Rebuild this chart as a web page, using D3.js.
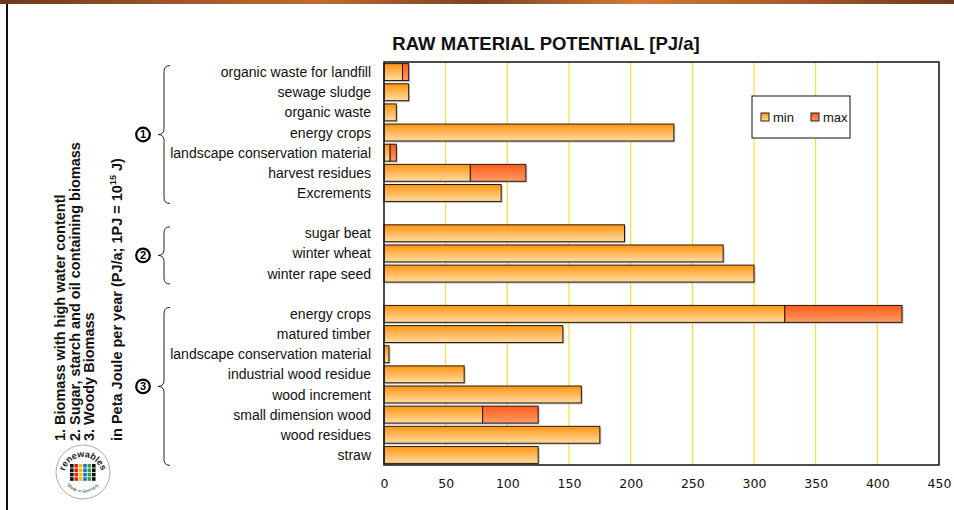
<!DOCTYPE html>
<html>
<head>
<meta charset="utf-8">
<script src="https://cdn.jsdelivr.net/npm/d3@7"></script>
<style>
  body { margin: 0; background: #fff; }
  svg { display: block; font-family: "Liberation Sans", Arial, sans-serif; }
</style>
</head>
<body>
<div id="viz"></div>
<script>
// rows top to bottom, "" = empty gap row between the groups
const categories = [
  "organic waste for landfill", "sewage sludge", "organic waste", "energy crops",
  "landscape conservation material", "harvest residues", "Excrements",
  "",
  "sugar beat", "winter wheat", "winter rape seed",
  "",
  "energy crops", "matured timber", "landscape conservation material",
  "industrial wood residue", "wood increment", "small dimension wood",
  "wood residues", "straw"
];
const minValues = [15, 20, 10, 235, 5, 70, 95, null, 195, 275, 300, null, 325, 145, 4, 65, 160, 80, 175, 125];
const maxValues = [20, null, null, null, 10, 115, null, null, null, null, null, null, 420, null, null, null, null, 125, null, null];

const groupMarks = ["1", "2", "3"];
const groupRows = [[0, 6], [8, 10], [12, 19]];

const sideNotes = [
  "1. Biomass with high water contentl",
  "2. Sugar, starch and oil containing biomass",
  "3. Woody Biomass"
];
const unitNote = "in Peta Joule per year (PJ/a; 1PJ = 10";

const xTicks = [0, 50, 100, 150, 200, 250, 300, 350, 400, 450];
const legendItems = ["min", "max"];

const width = 954, height = 510;
const plot = { left: 384, right: 939, top: 62, bottom: 465 };

const svg = d3.select("#viz").append("svg")
  .attr("width", width).attr("height", height);

const defs = svg.append("defs");
const grad = (id, top, bottom) => {
  const g = defs.append("linearGradient").attr("id", id)
    .attr("x1", 0).attr("y1", 0).attr("x2", 0).attr("y2", 1);
  g.append("stop").attr("offset", "0%").attr("stop-color", top);
  g.append("stop").attr("offset", "100%").attr("stop-color", bottom);
};
grad("gMin", "#ff9410", "#ffdca2");
grad("gMax", "#ff5a18", "#ff9c6a");

// top decorative strip
const strip = defs.append("linearGradient").attr("id", "strip");
["#6b3a1e", "#9a5428", "#c06a30", "#7a4424", "#d07a36", "#a55a2a", "#6b3a1e"].forEach((c, i, a) =>
  strip.append("stop").attr("offset", (i / (a.length - 1) * 100) + "%").attr("stop-color", c));
svg.append("rect").attr("x", 0).attr("y", 0).attr("width", width).attr("height", 4).attr("fill", "url(#strip)");
svg.append("line").attr("x1", 7).attr("x2", 7).attr("y1", 4).attr("y2", height)
  .attr("stroke", "#111").attr("stroke-width", 2);

const x = d3.scaleLinear().domain([0, 450]).range([plot.left, plot.right]);
const y = d3.scaleBand().domain(d3.range(categories.length))
  .range([plot.top, plot.bottom]).paddingInner(0.16).paddingOuter(0.08);

// grid
svg.append("g").selectAll("line").data(xTicks.slice(1, -1)).join("line")
  .attr("x1", d => x(d)).attr("x2", d => x(d))
  .attr("y1", plot.top).attr("y2", plot.bottom)
  .attr("stroke", "#ffd21a").attr("stroke-width", 1);

// bars
const rows = categories.map((c, i) => ({ i, c, min: minValues[i], max: maxValues[i] }))
  .filter(d => d.min != null);

const bars = svg.append("g");
bars.selectAll("rect.shadow").data(rows).join("rect")
  .attr("class", "shadow")
  .attr("x", x(0) + 1.5).attr("y", d => y(d.i) + 1.5)
  .attr("width", d => x(d.max != null ? d.max : d.min) - x(0))
  .attr("height", y.bandwidth())
  .attr("fill", "#777").attr("opacity", 0.45);
bars.selectAll("rect.min").data(rows).join("rect")
  .attr("class", "min")
  .attr("x", x(0)).attr("y", d => y(d.i))
  .attr("width", d => x(d.min) - x(0))
  .attr("height", y.bandwidth())
  .attr("fill", "url(#gMin)").attr("stroke", "#2a1a0a").attr("stroke-width", 1);
bars.selectAll("rect.max").data(rows.filter(d => d.max != null)).join("rect")
  .attr("class", "max")
  .attr("x", d => x(d.min)).attr("y", d => y(d.i))
  .attr("width", d => x(d.max) - x(d.min))
  .attr("height", y.bandwidth())
  .attr("fill", "url(#gMax)").attr("stroke", "#2a1a0a").attr("stroke-width", 1);

// plot frame
svg.append("rect").attr("x", plot.left).attr("y", plot.top)
  .attr("width", plot.right - plot.left).attr("height", plot.bottom - plot.top)
  .attr("fill", "none").attr("stroke", "#111").attr("stroke-width", 1.5);

// x axis
const xAxis = svg.append("g").attr("transform", `translate(0,${plot.bottom})`)
  .call(d3.axisBottom(x).tickValues(xTicks).tickSize(0).tickPadding(14));
xAxis.select(".domain").remove();
xAxis.selectAll("text").attr("fill", "#111")
  .attr("font-family", "'DejaVu Sans', sans-serif").attr("font-size", 12.5);

// category labels
svg.append("g").selectAll("text").data(categories.map((c, i) => ({ c, i })).filter(d => d.c))
  .join("text")
  .attr("x", 371).attr("y", d => y(d.i) + y.bandwidth() / 2)
  .attr("dy", "0.36em").attr("text-anchor", "end")
  .attr("font-size", 14).attr("fill", "#111")
  .text(d => d.c);

// title
svg.append("text").attr("x", 546).attr("y", 50).attr("text-anchor", "middle")
  .attr("font-size", 18.5).attr("font-weight", "bold").attr("fill", "#111")
  .text("RAW MATERIAL POTENTIAL [PJ/a]");

// braces and group markers
const brace = (y0, y1, xr, xl) => {
  const ym = (y0 + y1) / 2, xm = (xr + xl) / 2;
  return `M${xr},${y0} Q${xm},${y0} ${xm},${y0 + 6} L${xm},${ym - 6} Q${xm},${ym} ${xl},${ym}` +
         ` Q${xm},${ym} ${xm},${ym + 6} L${xm},${y1 - 6} Q${xm},${y1} ${xr},${y1}`;
};
const braceG = svg.append("g");
braceG.selectAll("path").data(groupRows).join("path")
  .attr("d", d => brace(y(d[0]) + 2, y(d[1]) + y.bandwidth() + 2, 170, 158))
  .attr("fill", "none").attr("stroke", "#222").attr("stroke-width", 1);
const marks = braceG.selectAll("g").data(groupRows).join("g")
  .attr("transform", d => `translate(143,${(y(d[0]) + y(d[1]) + y.bandwidth()) / 2 + 2})`);
marks.append("circle").attr("r", 6.8).attr("fill", "#fff").attr("stroke", "#000").attr("stroke-width", 2.2);
marks.append("text").attr("dy", "0.36em").attr("text-anchor", "middle")
  .attr("font-size", 11).attr("font-weight", "bold").attr("fill", "#000")
  .text((d, i) => groupMarks[i]);

// rotated side notes
const notes = svg.append("g").attr("font-size", 14.5).attr("font-weight", "bold").attr("fill", "#111");
notes.selectAll("text").data(sideNotes).join("text")
  .attr("transform", (d, i) => `translate(${65 + i * 14.5},441) rotate(-90)`)
  .text(d => d);
const unit = notes.append("text").attr("transform", "translate(122,441) rotate(-90)").text(unitNote);
unit.append("tspan").attr("font-size", 9).attr("dy", -6).text("15");
unit.append("tspan").attr("dy", 6).text(" J)");

// legend
const lg = svg.append("g").attr("transform", "translate(752,96)");
lg.append("rect").attr("width", 98).attr("height", 42).attr("fill", "#fff")
  .attr("stroke", "#111").attr("stroke-width", 1);
const li = lg.selectAll("g").data(legendItems).join("g")
  .attr("transform", (d, i) => `translate(${9 + i * 50},21)`);
li.append("rect").attr("x", 0).attr("y", -4).attr("width", 8).attr("height", 8)
  .attr("fill", (d, i) => i ? "url(#gMax)" : "url(#gMin)").attr("stroke", "#222");
li.append("text").attr("x", 12).attr("dy", "0.35em").attr("font-size", 13).attr("fill", "#111").text(d => d);

// logo
const logo = svg.append("g").attr("transform", "translate(83,472)");
logo.append("circle").attr("r", 27).attr("fill", "#fff").attr("stroke", "#aaa").attr("stroke-width", 1);
logo.append("path").attr("id", "arcTop").attr("d", "M-19,4 A19,19 0 0,1 19,4").attr("fill", "none");
logo.append("path").attr("id", "arcBot").attr("d", "M-20,6 A21,21 0 0,0 20,6").attr("fill", "none");
logo.append("text").attr("font-size", 9).attr("font-weight", "bold").attr("fill", "#222")
  .append("textPath").attr("href", "#arcTop").attr("startOffset", "50%").attr("text-anchor", "middle")
  .text("renewables");
logo.append("text").attr("font-size", 4.5).attr("fill", "#333")
  .append("textPath").attr("href", "#arcBot").attr("startOffset", "50%").attr("text-anchor", "middle")
  .text("Made in Germany");
const logoCols = ["#111", "#e02020", "#f5c000", "#1f6fd0", "#2aa040", "#111"];
logoCols.forEach((c, i) => {
  for (let r = 0; r < 4; r++) {
    logo.append("rect").attr("x", -13 + i * 4.4).attr("y", -8 + r * 4.4)
      .attr("width", 3.6).attr("height", 3.6).attr("fill", c);
  }
});
</script>
</body>
</html>
